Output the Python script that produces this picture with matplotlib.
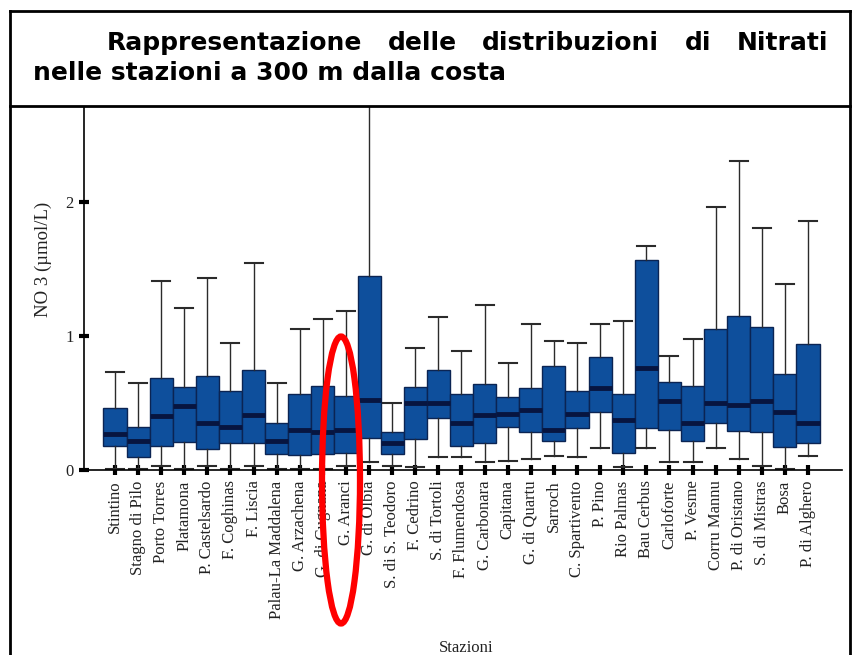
import matplotlib.pyplot as plt
from matplotlib.patches import Ellipse
from matplotlib.lines import Line2D

stations = ['Stintino', 'Stagno di Pilo', 'Porto Torres', 'Platamona',
            'P. Castelsardo', 'F. Coghinas', 'F. Liscia', 'Palau-La Maddalena',
            'G. Arzachena', 'G. di Cugnana', 'G. Aranci', 'G. di Olbia',
            'S. di S. Teodoro', 'F. Cedrino', 'S. di Tortoli', 'F. Flumendosa',
            'G. Carbonara', 'Capitana', 'G. di Quartu', 'Sarroch',
            'C. Spartivento', 'P. Pino', 'Rio Palmas', 'Bau Cerbus',
            'Carloforte', 'P. Vesme', 'Corru Mannu', 'P. di Oristano',
            'S. di Mistras', 'Bosa', 'P. di Alghero']

whis_lo = [0.01, 0.01, 0.03, 0.01, 0.03, 0.01, 0.03, 0.01, 0.01, 0.01, 0.03,
           0.06, 0.03, 0.02, 0.10, 0.10, 0.06, 0.07, 0.085, 0.105, 0.10,
           0.165, 0.02, 0.165, 0.06, 0.06, 0.165, 0.085, 0.03, 0.01, 0.105]
q1 = [0.18, 0.095, 0.18, 0.21, 0.16, 0.20, 0.20, 0.12, 0.11, 0.12, 0.125,
      0.24, 0.12, 0.23, 0.39, 0.18, 0.20, 0.32, 0.28, 0.22, 0.31,
      0.43, 0.125, 0.315, 0.30, 0.22, 0.35, 0.29, 0.285, 0.175, 0.20]
median = [0.27, 0.22, 0.40, 0.48, 0.35, 0.32, 0.41, 0.22, 0.30, 0.28, 0.30,
          0.52, 0.205, 0.50, 0.50, 0.35, 0.41, 0.42, 0.45, 0.30, 0.42,
          0.61, 0.37, 0.76, 0.515, 0.35, 0.50, 0.485, 0.515, 0.43, 0.35]
q3 = [0.46, 0.32, 0.69, 0.62, 0.70, 0.59, 0.75, 0.35, 0.565, 0.63, 0.555,
      1.45, 0.285, 0.62, 0.745, 0.57, 0.64, 0.545, 0.61, 0.775, 0.59,
      0.84, 0.565, 1.57, 0.655, 0.63, 1.05, 1.15, 1.07, 0.715, 0.94]
whis_hi = [0.73, 0.65, 1.41, 1.21, 1.43, 0.945, 1.545, 0.65, 1.05, 1.13, 1.19,
           2.9, 0.50, 0.91, 1.14, 0.89, 1.23, 0.80, 1.09, 0.965, 0.945,
           1.09, 1.11, 1.67, 0.85, 0.975, 1.965, 2.31, 1.805, 1.385, 1.86]

title_words = ['Rappresentazione', 'delle', 'distribuzioni', 'di', 'Nitrati']
title_line2 = 'nelle stazioni a 300 m dalla costa'

W, H = 856, 655
fig = plt.figure(figsize=(W / 100, H / 100), dpi=100)
ax = fig.add_axes([84 / W, 1 - 470 / H, (842 - 84) / W, (470 - 107) / H])

stats = []
for i in range(len(stations)):
    stats.append({'whislo': whis_lo[i], 'q1': q1[i], 'med': median[i],
                  'q3': q3[i], 'whishi': whis_hi[i], 'fliers': []})

ax.bxp(stats, positions=range(len(stations)), widths=1.0, patch_artist=True,
       showfliers=False, capwidths=0.78,
       boxprops=dict(facecolor='#0e4f9c', edgecolor='#0b2453', linewidth=1),
       medianprops=dict(color='#071540', linewidth=3.5),
       whiskerprops=dict(color='#2b2b2b', linewidth=1),
       capprops=dict(color='#2b2b2b', linewidth=1.5))

ax.set_xlim(-1.34, 31.47)
ax.set_ylim(0, 2.71)
ax.spines['top'].set_visible(False)
ax.spines['right'].set_visible(False)
ax.spines['left'].set_linewidth(1.2)
ax.spines['bottom'].set_linewidth(1.2)

ax.set_xticks(range(len(stations)))
ax.set_xticklabels(stations, rotation=90, family='Liberation Serif',
                   fontsize=12, color='#222222')
ax.set_yticks([0, 1, 2])
ax.set_yticklabels(['0', '1', '2'], family='Liberation Serif', fontsize=12,
                   color='#222222')
ax.tick_params(axis='both', direction='inout', length=7, width=3, pad=4)
ax.set_ylabel('NO 3 (\u00b5mol/L)', family='Liberation Serif', fontsize=13.5,
              color='#222222')
ax.yaxis.set_label_coords(-0.042, 0.58)
fig.text(466 / W, 1 - 652 / H, 'Stazioni', family='Liberation Serif',
         fontsize=12, color='#222222', ha='center', va='baseline')

# titolo giustificato: misuro le parole e distribuisco gli spazi
renderer = fig.canvas.get_renderer()
texts = [fig.text(0, 1 - 50 / H, w, fontsize=18, fontweight='bold',
                  family='DejaVu Sans', va='baseline') for w in title_words]
widths = [t.get_window_extent(renderer).width for t in texts]
x0, x1 = 107, 828
gap = (x1 - x0 - sum(widths)) / (len(texts) - 1)
x = x0
for t, w in zip(texts, widths):
    t.set_x(x / W)
    x += w + gap
fig.text(33 / W, 1 - 80 / H, title_line2, fontsize=18, fontweight='bold',
         family='DejaVu Sans', ha='left', va='baseline')

# cornice della slide
for xs, ys in [([10, 850], [11, 11]), ([10, 10], [11, 660]),
               ([850, 850], [11, 660]), ([10, 850], [106, 106])]:
    fig.add_artist(Line2D([x / W for x in xs], [1 - y / H for y in ys],
                          color='black', linewidth=2))

fig.add_artist(Ellipse((341 / W, 1 - 480 / H), 38 / W, 287 / H,
                       transform=fig.transFigure, fill=False,
                       edgecolor='#ff0000', linewidth=4.5, zorder=10))

fig.savefig('out.png', dpi=100)
